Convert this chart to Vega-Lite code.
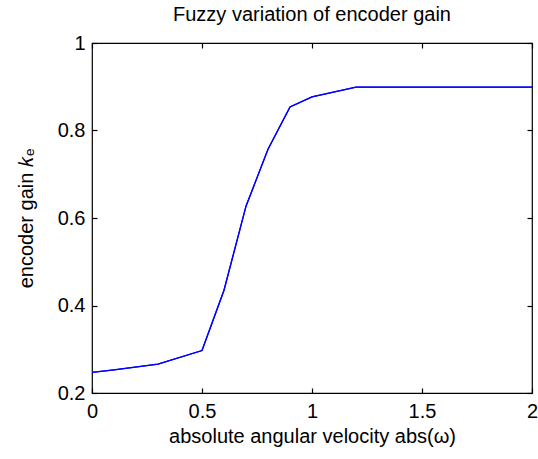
{
  "$schema": "https://vega.github.io/schema/vega-lite/v6.json",
  "autosize": "none",
  "padding": {"left": 92, "top": 43, "right": 6, "bottom": 66},
  "width": 440,
  "height": 350,
  "background": "white",
  "title": {"text": "Fuzzy variation of encoder gain", "font": "Liberation Sans", "fontSize": 20, "fontWeight": "normal", "color": "black", "offset": 8, "anchor": "middle"},
  "config": {
    "view": {"stroke": "black", "strokeWidth": 1.2},
    "axis": {"labelFont": "Liberation Sans", "titleFont": "Liberation Sans", "labelFontSize": 20, "titleFontSize": 20, "titleFontWeight": "normal", "labelColor": "black", "titleColor": "black", "domain": false, "ticks": true, "tickColor": "black", "tickSize": 5, "offset": -5, "grid": false, "tickWidth": 1.2, "format": "~g"}
  },
  "data": {"values": [
    {"w": 0.0, "k": 0.247},
    {"w": 0.1, "k": 0.253},
    {"w": 0.3, "k": 0.266},
    {"w": 0.5, "k": 0.297},
    {"w": 0.6, "k": 0.435},
    {"w": 0.7, "k": 0.627},
    {"w": 0.8, "k": 0.757},
    {"w": 0.9, "k": 0.854},
    {"w": 1.0, "k": 0.877},
    {"w": 1.2, "k": 0.899},
    {"w": 2.0, "k": 0.899}
  ]},
  "layer": [
    {
      "mark": {"type": "line", "color": "#0000ff", "strokeWidth": 1.3},
      "encoding": {
        "x": {"field": "w", "type": "quantitative", "scale": {"domain": [0, 2], "nice": false}, "axis": {"title": "absolute angular velocity abs(ω)", "values": [0, 0.5, 1, 1.5, 2], "labelPadding": 8, "titlePadding": 5, "labelFlush": false}},
        "y": {"field": "k", "type": "quantitative", "scale": {"domain": [0.2, 1], "nice": false, "zero": false}, "axis": {"title": "encoder gain 𝑘ₑ", "values": [0.2, 0.4, 0.6, 0.8, 1], "labelPadding": 7, "titlePadding": 21, "labelFlush": false}}
      }
    },
    {
      "mark": {"type": "line", "color": "#0000ff", "strokeWidth": 1.3},
      "encoding": {
        "x": {"field": "w", "type": "quantitative", "axis": {"orient": "top", "title": null, "labels": false, "values": [0, 0.5, 1, 1.5, 2]}},
        "y": {"field": "k", "type": "quantitative", "axis": {"orient": "right", "title": null, "labels": false, "values": [0.2, 0.4, 0.6, 0.8, 1]}}
      }
    }
  ],
  "resolve": {"axis": {"x": "independent", "y": "independent"}}
}
